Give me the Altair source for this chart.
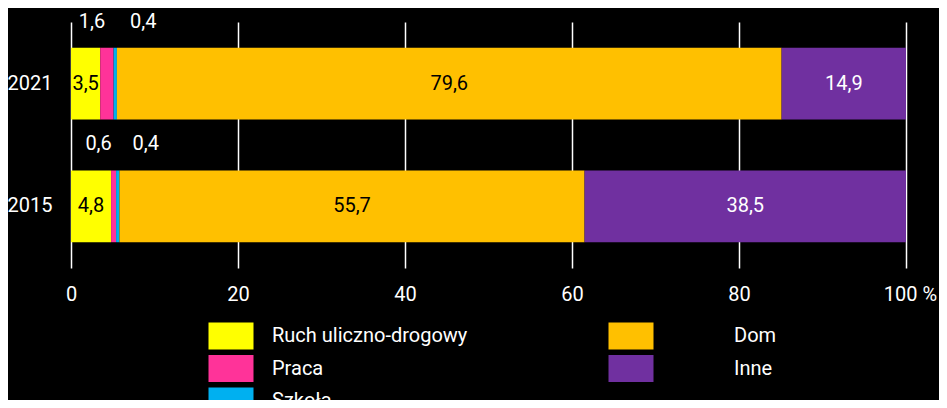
import altair as alt
import pandas as pd

years = ["2021", "2015"]
categories = ["Ruch uliczno-drogowy", "Praca", "Szkoła", "Dom", "Inne"]
values_2021 = [3.5, 1.6, 0.4, 79.6, 14.9]
values_2015 = [4.8, 0.6, 0.4, 55.7, 38.5]
colors = ["#FFFF00", "#FF3399", "#00B0F0", "#FFC000", "#7030A0"]
x_ticks = [0, 20, 40, 60, 80, 100]

group_a = categories[:3]
group_b = categories[3:]
colors_a = colors[:3]
colors_b = colors[3:]
outside = ["Praca", "Szkoła"]

rows = []
for year, vals in zip(years, [values_2021, values_2015]):
    acc = 0.0
    for i, (c, v) in enumerate(zip(categories, vals)):
        rows.append({"year": year, "cat": c, "value": v, "start": acc,
                     "end": acc + v, "mid": acc + v / 2, "idx": i,
                     "label": f"{v:.1f}".replace(".", ",")})
        acc += v
df = pd.DataFrame(rows)

FONT = "Roboto"

base = alt.Chart(df)

y_enc = alt.Y("year:N", sort=years, title=None,
              scale=alt.Scale(paddingInner=0.415, paddingOuter=0.21),
              axis=alt.Axis(domain=False, ticks=False, labelPadding=19,
                            labelColor="white", labelFontSize=20, labelFont=FONT))
x_enc = alt.X("start:Q", title=None,
              scale=alt.Scale(domain=[0, 100], nice=False),
              axis=alt.Axis(values=x_ticks, grid=True, gridColor="white", gridWidth=1.5,
                            domain=False, ticks=False, labelPadding=16, labelFlush=False,
                            labelColor="white", labelFontSize=20, labelFont=FONT,
                            labelExpr="datum.value == 100 ? '100 %' : datum.label",
                            labelOffset={"condition": {"test": "datum.value == 100", "value": 4}, "value": 0}))

legend_common = dict(orient="none", legendY=304,
                     symbolType="M-4.5,-2.7H4.5V2.7H-4.5Z", symbolSize=100,
                     symbolStrokeWidth=0, rowPadding=4.5,
                     labelFontSize=20, labelColor="white", labelFont=FONT,
                     labelLimit=0, padding=0, symbolOpacity=1)

bars_a = base.transform_filter(
    alt.FieldOneOfPredicate(field="cat", oneOf=group_a)
).mark_bar().encode(
    y=y_enc, x=x_enc, x2="end:Q",
    color=alt.Color("cat:N", scale=alt.Scale(domain=group_a, range=colors_a), title=None,
                    legend=alt.Legend(legendX=150, labelOffset=31, **legend_common)),
)

bars_b = base.transform_filter(
    alt.FieldOneOfPredicate(field="cat", oneOf=group_b)
).mark_bar().encode(
    y=alt.Y("year:N", sort=years), x="start:Q", x2="end:Q",
    color=alt.Color("cat:N", scale=alt.Scale(domain=group_b, range=colors_b), title=None,
                    legend=alt.Legend(legendX=550, labelOffset=93, **legend_common)),
)

inside_labels = base.transform_filter(
    ~alt.FieldOneOfPredicate(field="cat", oneOf=outside)
).mark_text(fontSize=20, font=FONT).encode(
    y=alt.Y("year:N", sort=years), x="mid:Q", text="label:N",
    fill=alt.condition(alt.datum.cat == "Inne", alt.value("white"), alt.value("black")),
)

praca_labels = base.transform_filter(alt.datum.cat == "Praca").mark_text(
    fontSize=20, font=FONT, dy=-62, dx=-15, color="white"
).encode(y=alt.Y("year:N", sort=years), x="mid:Q", text="label:N")

szkola_labels = base.transform_filter(alt.datum.cat == "Szkoła").mark_text(
    fontSize=20, font=FONT, dy=-62, dx=28, color="white"
).encode(y=alt.Y("year:N", sort=years), x="mid:Q", text="label:N")

chart = alt.layer(bars_a, bars_b, inside_labels, praca_labels, szkola_labels).resolve_scale(
    color="independent"
).properties(
    width=835, height=246,
    autosize=alt.AutoSizeParams(type="none"),
    padding={"left": 63, "top": 14, "right": 33, "bottom": 132},
    background="black",
).configure_view(stroke=None)

chart.save("out.html", embed_options={"renderer": "svg", "actions": False})
